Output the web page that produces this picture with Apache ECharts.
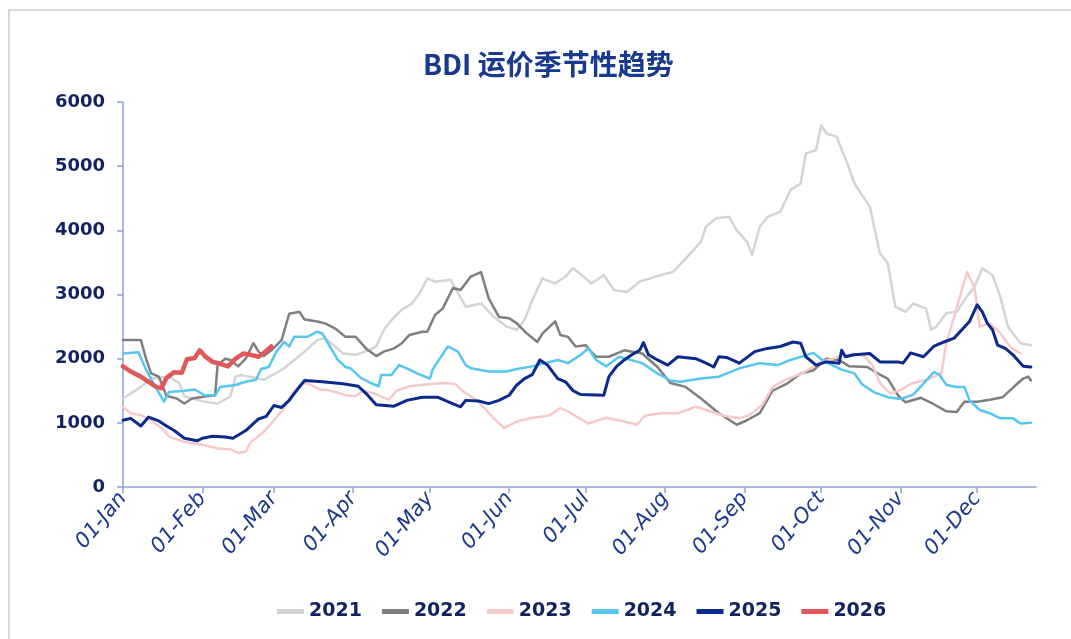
<!DOCTYPE html>
<html>
<head>
<meta charset="utf-8">
<script src="https://cdn.jsdelivr.net/npm/echarts@6/dist/echarts.min.js"></script>
<style>
html,body{margin:0;padding:0;background:#fff;}
#chart{width:1071px;height:639px;}
</style>
</head>
<body>
<div id="chart"></div>
<script>
// Month start labels (day-of-year index) for the x axis
const monthLabels = ['01-Jan','01-Feb','01-Mar','01-Apr','01-May','01-Jun','01-Jul','01-Aug','01-Sep','01-Oct','01-Nov','01-Dec'];
const monthStartDays = [0,31,59,90,120,151,181,212,243,273,304,334];
const yTicks = [0,1000,2000,3000,4000,5000,6000];
const years = ['2021','2022','2023','2024','2025','2026'];

// BDI values: [day of year, index]
const bdi2021 = [[0,1380],[7,1560],[11,1690],[18,1720],[22,1620],[24,1410],[32,1330],[37,1300],[42,1410],[44,1720],[46,1745],[53,1690],[55,1670],[61,1800],[63,1850],[67,1980],[71,2110],[76,2290],[79,2320],[83,2190],[86,2080],[91,2060],[96,2130],[99,2190],[102,2450],[106,2650],[109,2760],[113,2860],[116,3020],[119,3250],[122,3200],[128,3230],[131,3020],[134,2810],[140,2860],[145,2650],[150,2500],[154,2450],[157,2600],[160,2910],[164,3250],[169,3170],[173,3280],[176,3410],[181,3250],[183,3170],[188,3300],[192,3070],[197,3040],[202,3200],[210,3300],[215,3350],[220,3560],[226,3820],[228,4060],[232,4190],[237,4210],[240,4000],[244,3820],[246,3620],[249,4060],[252,4210],[257,4290],[261,4630],[265,4730],[267,5200],[271,5250],[273,5640],[275,5510],[279,5460],[283,5070],[286,4730],[292,4370],[296,3640],[299,3490],[302,2810],[306,2730],[309,2860],[314,2780],[316,2450],[318,2500],[322,2710],[326,2730],[330,2970],[333,3120],[336,3410],[340,3300],[343,2970],[346,2500],[348,2390],[351,2240],[355,2210]];
const bdi2022 = [[0,2290],[7,2290],[9,2000],[11,1770],[14,1720],[17,1420],[21,1380],[24,1300],[27,1380],[32,1410],[36,1430],[37,1900],[40,2000],[42,1980],[45,1880],[48,2000],[51,2240],[53,2110],[55,2040],[58,2130],[62,2290],[65,2700],[69,2730],[71,2610],[76,2580],[79,2550],[83,2470],[87,2340],[91,2340],[95,2160],[99,2040],[102,2110],[106,2160],[109,2240],[112,2370],[117,2420],[119,2420],[122,2680],[125,2780],[129,3100],[132,3070],[136,3280],[140,3350],[143,2940],[147,2650],[151,2630],[154,2550],[158,2390],[162,2260],[164,2390],[169,2580],[171,2370],[174,2340],[177,2190],[181,2210],[183,2110],[185,2030],[190,2030],[196,2130],[203,2080],[209,1870],[214,1620],[220,1560],[226,1380],[233,1150],[240,970],[244,1040],[249,1150],[254,1500],[260,1620],[265,1770],[270,1820],[275,2000],[280,1980],[284,1880],[291,1870],[296,1750],[299,1690],[303,1430],[306,1320],[312,1390],[317,1290],[322,1180],[326,1170],[329,1330],[334,1330],[339,1360],[344,1400],[348,1550],[352,1690],[354,1720],[355,1660]];
const bdi2023 = [[0,1250],[3,1150],[7,1120],[11,1040],[15,920],[18,790],[24,700],[32,650],[37,600],[42,590],[45,530],[48,550],[50,700],[53,790],[55,860],[59,1040],[63,1230],[66,1450],[70,1620],[73,1600],[77,1520],[80,1510],[84,1470],[87,1430],[91,1420],[94,1500],[98,1460],[104,1360],[107,1500],[112,1570],[119,1600],[126,1620],[130,1600],[133,1490],[138,1360],[142,1200],[145,1070],[149,920],[154,1020],[159,1070],[164,1100],[167,1120],[171,1230],[174,1180],[178,1080],[182,990],[189,1080],[196,1020],[201,970],[204,1110],[210,1150],[217,1150],[224,1250],[228,1200],[235,1110],[241,1070],[245,1120],[250,1280],[254,1560],[259,1670],[266,1780],[273,1950],[280,2030],[286,2080],[290,2040],[293,1900],[296,1620],[300,1460],[304,1510],[308,1610],[315,1680],[320,1770],[322,2250],[325,2650],[330,3350],[333,3100],[335,2500],[339,2550],[343,2400],[347,2180],[351,2080]];
const bdi2024 = [[0,2080],[6,2100],[9,1830],[12,1610],[16,1330],[18,1480],[24,1500],[28,1520],[32,1430],[36,1430],[38,1560],[44,1590],[48,1640],[52,1670],[54,1840],[57,1870],[60,2110],[63,2260],[65,2190],[67,2340],[72,2340],[76,2420],[78,2390],[80,2250],[84,1980],[87,1870],[89,1850],[93,1700],[97,1620],[100,1570],[101,1745],[105,1745],[108,1900],[111,1850],[115,1770],[120,1690],[121,1820],[123,1950],[127,2190],[131,2110],[134,1900],[136,1850],[143,1800],[150,1800],[154,1840],[160,1880],[165,1930],[170,1980],[174,1930],[179,2060],[182,2160],[185,1980],[189,1880],[194,2030],[203,1930],[209,1770],[214,1660],[218,1640],[226,1690],[233,1720],[241,1850],[249,1930],[256,1900],[261,1980],[266,2040],[270,2090],[274,1960],[281,1830],[286,1770],[289,1600],[294,1470],[299,1400],[304,1370],[309,1440],[313,1610],[317,1790],[319,1760],[322,1590],[326,1560],[329,1560],[331,1350],[335,1200],[339,1150],[343,1070],[348,1070],[351,990],[355,1000]];
const bdi2025 = [[0,1040],[3,1070],[7,950],[10,1090],[14,1030],[17,950],[20,880],[24,760],[29,720],[31,760],[35,790],[40,780],[43,760],[48,880],[53,1060],[56,1100],[59,1270],[62,1240],[65,1350],[67,1460],[71,1660],[78,1640],[86,1610],[92,1570],[95,1460],[99,1280],[106,1260],[111,1350],[117,1400],[123,1400],[127,1330],[132,1250],[134,1350],[139,1340],[143,1300],[147,1350],[151,1430],[154,1590],[157,1690],[160,1750],[163,1980],[166,1900],[170,1690],[173,1640],[176,1500],[179,1440],[188,1430],[190,1720],[193,1880],[196,1980],[199,2060],[202,2130],[203.5,2250],[205.5,2060],[209,1980],[213,1900],[217,2030],[224,2000],[228,1930],[231,1870],[233,2030],[236,2020],[241,1930],[247,2110],[252,2160],[257,2190],[262,2260],[265,2240],[267,2030],[271,1900],[275,1950],[280,1930],[281,2130],[282.5,2030],[286,2060],[292,2080],[296,1950],[303,1950],[305,1930],[308,2090],[313,2030],[317,2190],[321,2260],[325,2320],[328,2450],[331,2580],[334,2840],[336,2730],[338,2550],[340,2450],[342,2210],[345,2160],[348,2060],[352,1880],[355,1870]];
const bdi2026 = [[0,1880],[3,1800],[7,1720],[10,1640],[13,1560],[15,1540],[17,1700],[20,1790],[23,1780],[25,1990],[28,2010],[30,2130],[32,2040],[35,1950],[38,1920],[41,1880],[44,2000],[47,2080],[50,2060],[53,2030],[56,2120],[58,2190]];

const seriesData = [bdi2021, bdi2022, bdi2023, bdi2024, bdi2025, bdi2026];
const colors = ['#d4d4d4','#7f7f7f','#f6caca','#56c6f0','#0b2b8c','#e0585a'];
const widths = [2.5, 2.5, 2.5, 2.5, 3, 4.5];

const chart = echarts.init(document.getElementById('chart'), null, {renderer:'canvas'});
const axisBlue = '#8fa2d6';
const navy = '#13235f';

chart.setOption({
  animation: false,
  backgroundColor: '#fff',
  graphic: [{
    type: 'rect', silent: true,
    shape: {x: 9, y: 10, width: 1200, height: 800},
    style: {fill: null, stroke: '#d9d9d9', lineWidth: 2}
  }],
  title: {
    text: 'BDI 运价季节性趋势',
    left: 418, top: 45,
    textStyle: {fontFamily: 'Noto Sans CJK SC', fontWeight: 'bold', fontSize: 28, color: '#173a8e'}
  },
  legend: {
    data: years,
    left: 272, top: 597,
    icon: 'rect', itemWidth: 27, itemHeight: 5, itemGap: 20,
    textStyle: {fontFamily: 'DejaVu Sans', fontWeight: 'bold', fontSize: 19, color: navy}
  },
  grid: {left: 123, right: 35, top: 102, bottom: 152, containLabel: false},
  xAxis: {
    type: 'value', min: 0, max: 357,
    axisLine: {show: true, lineStyle: {color: axisBlue, width: 1.5}},
    axisTick: {show: true, customValues: monthStartDays, length: 6, lineStyle: {color: axisBlue, width: 1.5}},
    axisLabel: {
      customValues: monthStartDays,
      formatter: function (v) { const i = monthStartDays.indexOf(Math.round(v)); return i >= 0 ? monthLabels[i] : ''; },
      rotate: 50, fontStyle: 'italic', fontFamily: 'DejaVu Sans', fontSize: 21, color: '#1e3a8a', margin: 8
    },
    splitLine: {show: false}
  },
  yAxis: {
    type: 'value', min: 0, max: 6000, interval: 1000,
    axisLine: {show: true, lineStyle: {color: axisBlue, width: 1.5}},
    axisTick: {show: true, length: 6, lineStyle: {color: axisBlue, width: 1.5}},
    axisLabel: {fontFamily: 'DejaVu Sans', fontWeight: 'bold', fontSize: 18, color: navy, margin: 18,
      formatter: function (v) { return yTicks.indexOf(v) >= 0 ? String(v) : ''; }},
    splitLine: {show: false}
  },
  series: years.map(function (y, i) {
    return {
      name: y, type: 'line', data: seriesData[i],
      showSymbol: false, symbol: 'none', smooth: false,
      color: colors[i],
      lineStyle: {color: colors[i], width: widths[i], join: 'round', cap: 'round'},
      z: 2 + i
    };
  })
});
</script>
</body>
</html>
